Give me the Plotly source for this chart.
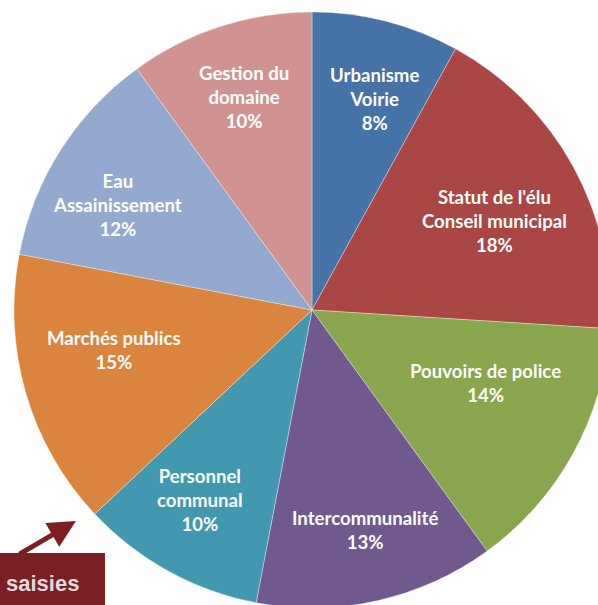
import plotly.graph_objects as go

labels = ["Urbanisme<br>Voirie", "Statut de l'élu<br>Conseil municipal", "Pouvoirs de police",
          "Intercommunalité", "Personnel<br>communal", "Marchés publics",
          "Eau<br>Assainissement", "Gestion du<br>domaine"]
values = [8, 18, 14, 13, 10, 15, 12, 10]
colors = ["#4572A7", "#AA4643", "#89A54E", "#71588F", "#4198AF", "#DB843D", "#93A9CF", "#D19392"]

# label block centres in page pixels (layout only)
label_px = [(374, 99), (494, 221), (485, 383), (365, 530), (200, 500), (114, 350), (117, 205), (244, 97)]

W, H = 620, 620

fig = go.Figure(go.Pie(
    labels=labels, values=values, sort=False, direction="clockwise", rotation=0,
    marker=dict(colors=colors, line=dict(color="rgba(255,255,255,0.5)", width=0.7)),
    textinfo="none",
    hoverinfo="label+percent",
    domain=dict(x=[14 / W, 610 / W], y=[1 - 608 / H, 1 - 12 / H]),
    showlegend=False,
))

total = sum(values)
for lab, v, (px, py) in zip(labels, values, label_px):
    fig.add_annotation(xref="paper", yref="paper", x=px / W, y=1 - py / H,
                       xanchor="center", yanchor="middle", showarrow=False,
                       text=f"{lab}<br>{round(100 * v / total)}%",
                       font=dict(family="Lato", size=18.6, color="white", weight="bold"))

red = "#7B1F22"
fig.add_shape(type="rect", xref="paper", yref="paper",
              x0=0, x1=105 / W, y0=1 - 620 / H, y1=1 - 553 / H,
              fillcolor=red, line=dict(width=0), layer="above")
fig.add_annotation(xref="paper", yref="paper", x=4 / W, y=1 - 583 / H, xanchor="left", yanchor="middle",
                   text="<b>saisies</b>", showarrow=False,
                   font=dict(family="Liberation Sans", size=22, color="#E2DADC"))
fig.add_annotation(xref="paper", yref="paper", x=76 / W, y=1 - 521 / H, text="",
                   showarrow=True, axref="pixel", ayref="pixel", ax=-58, ay=34,
                   arrowhead=2, arrowsize=1.1, arrowwidth=5, arrowcolor=red)

fig.update_layout(width=W, height=H, margin=dict(l=0, r=0, t=0, b=0),
                  paper_bgcolor="white", plot_bgcolor="white")

fig.write_html("out.html", config=dict(displayModeBar=False),
               post_script="document.body.style.margin='0';document.body.style.overflow='hidden';document.documentElement.style.overflow='hidden';")
